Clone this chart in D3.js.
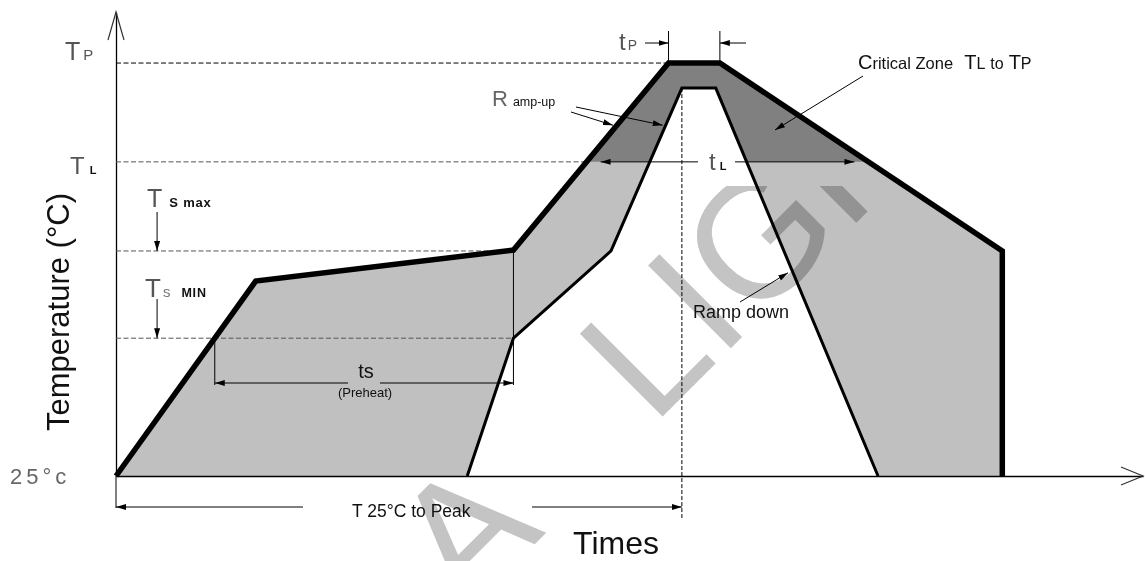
<!DOCTYPE html>
<html>
<head>
<meta charset="utf-8">
<script src="https://cdn.jsdelivr.net/npm/d3@7"></script>
<style>
  body { margin: 0; background: #fff; }
  svg { display: block; }
  text { font-family: "Liberation Sans", Arial, sans-serif; }
</style>
</head>
<body>
<svg></svg>
<script>
// reflow profile in relative units (0-100 on both axes)
const outerTime = [0, 13.6, 38.7, 53.8, 58.8, 86.3, 86.3];
const outerTemp = [0, 42.0, 48.7, 89.0, 89.0, 48.5, 0];
const innerTime = [34.2, 38.7, 48.2, 55.1, 58.4, 74.2];
const innerTemp = [0, 29.7, 48.5, 83.6, 83.6, 0];
const levelKeys = ["TP", "TL", "Tsmax", "Tsmin", "T25"];
const levelTemps = [89.0, 67.7, 48.5, 29.7, 0];
const peakTime = 55.1;
const rampUpTemp = 75.6;
const rampDownTemp = 43.8;

const width = 1145;
const height = 561;
const x = d3.scaleLinear().domain([0, 100]).range([116, 1143]);
const y = d3.scaleLinear().domain([0, 100]).range([476, 12]);
const level = k => levelTemps[levelKeys.indexOf(k)];

// time where a profile passes temperature t, searching from segment `from`
function crossAt(times, temps, t, from) {
  for (let i = from; i < times.length - 1; i++) {
    const a = temps[i], b = temps[i + 1];
    if (a !== b && (a - t) * (b - t) <= 0) {
      return times[i] + ((t - a) / (b - a)) * (times[i + 1] - times[i]);
    }
  }
}

const svg = d3.select("svg").attr("width", width).attr("height", height);
const defs = svg.append("defs");
defs
  .append("marker")
  .attr("id", "ah")
  .attr("viewBox", "0 0 10 6")
  .attr("refX", 10)
  .attr("refY", 3)
  .attr("markerWidth", 10)
  .attr("markerHeight", 6)
  .attr("markerUnits", "userSpaceOnUse")
  .attr("orient", "auto")
  .append("path")
  .attr("d", "M0,0L10,3L0,6Z")
  .attr("fill", "#000");
defs
  .append("clipPath")
  .attr("id", "above-tl")
  .append("rect")
  .attr("x", 0)
  .attr("y", 0)
  .attr("width", width)
  .attr("height", y(level("TL")));
defs
  .append("clipPath")
  .attr("id", "wm-clip")
  .append("rect")
  .attr("x", 0)
  .attr("y", 186)
  .attr("width", width)
  .attr("height", height - 186);

svg.append("rect").attr("width", width).attr("height", height).attr("fill", "#fff");

const outerPts = outerTime.map((t, i) => [t, outerTemp[i]]);
const innerPts = innerTime.map((t, i) => [t, innerTemp[i]]);
const line = d3.line().x(d => x(d[0])).y(d => y(d[1]));
const band = outerPts.concat(innerPts.slice().reverse());

// filled band between the two profiles
svg.append("path").attr("d", line(band) + "Z").attr("fill", "#c0c0c0");
svg
  .append("path")
  .attr("d", line(band) + "Z")
  .attr("fill", "#808080")
  .attr("clip-path", "url(#above-tl)");

// watermark
const wm = svg
  .append("g")
  .attr("clip-path", "url(#wm-clip)")
  .style("mix-blend-mode", "multiply");
const wmg = wm.append("g").attr("transform", "translate(662,417) rotate(-45)");
wmg
  .append("text")
  .attr("x", -13)
  .attr("font-size", 170)
  .attr("fill", "#c4c4c4")
  .text("LIGH");
wmg
  .append("text")
  .attr("x", -220)
  .attr("text-anchor", "middle")
  .attr("font-size", 170)
  .attr("fill", "#c4c4c4")
  .text("A");

// axes
const xAxis = svg
  .append("g")
  .attr("transform", `translate(0,${y(0)})`)
  .call(d3.axisBottom(x).tickValues([]).tickSizeOuter(0));
xAxis.select(".domain").attr("stroke", "#000").attr("stroke-width", 1.3);
const yAxis = svg
  .append("g")
  .attr("transform", `translate(${x(0)},0)`)
  .call(d3.axisLeft(y).tickValues([]).tickSizeOuter(0));
yAxis.select(".domain").attr("stroke", "#000").attr("stroke-width", 1.3);

svg
  .append("polyline")
  .attr("points", [[x(100) - 22, y(0) - 9], [x(100), y(0)], [x(100) - 22, y(0) + 9]].join(" "))
  .attr("fill", "none")
  .attr("stroke", "#333")
  .attr("stroke-width", 1.2);
svg
  .append("polyline")
  .attr("points", [[x(0) - 8, y(100) + 28], [x(0), y(100)], [x(0) + 8, y(100) + 28]].join(" "))
  .attr("fill", "none")
  .attr("stroke", "#333")
  .attr("stroke-width", 1.2);

const ann = svg.append("g").attr("stroke", "#000").attr("stroke-width", 1).attr("fill", "none");
function seg(x1, y1, x2, y2, head) {
  const l = ann
    .append("line")
    .attr("x1", x1)
    .attr("y1", y1)
    .attr("x2", x2)
    .attr("y2", y2);
  if (head) l.attr("marker-end", "url(#ah)");
  return l;
}

// dashed level lines
const tlLeft = crossAt(outerTime, outerTemp, level("TL"), 0);
const tlRight = crossAt(outerTime, outerTemp, level("TL"), 3);
const soakStart = crossAt(outerTime, outerTemp, level("Tsmin"), 0);
const soakEnd = outerTime[2];
seg(x(0), y(level("TP")), x(outerTime[3]), y(level("TP"))).attr("stroke-dasharray", "5,2.5");
seg(x(0), y(level("TL")), x(tlLeft), y(level("TL"))).attr("stroke-dasharray", "5,2.5").attr("stroke", "#555");
seg(x(0), y(level("Tsmax")), x(soakEnd), y(level("Tsmax"))).attr("stroke-dasharray", "5,2.5").attr("stroke", "#555");
seg(x(0), y(level("Tsmin")), x(soakEnd), y(level("Tsmin"))).attr("stroke-dasharray", "5,2.5").attr("stroke", "#555");
seg(x(peakTime), y(innerTemp[3]), x(peakTime), y(0) + 42).attr("stroke-dasharray", "4,2");

// profile lines
svg
  .append("path")
  .attr("d", line(innerPts))
  .attr("fill", "none")
  .attr("stroke", "#000")
  .attr("stroke-width", 3);
svg
  .append("path")
  .attr("d", line(outerPts))
  .attr("fill", "none")
  .attr("stroke", "#000")
  .attr("stroke-width", 5.5)
  .attr("stroke-linejoin", "miter");

// dimension marks
const dimY = y(0) + 31;
seg(x(0), y(0), x(0), dimY + 1);
seg(303, dimY, x(0), dimY, true);
seg(532, dimY, x(peakTime), dimY, true);

const tsY = 383;
seg(x(soakStart), y(level("Tsmin")), x(soakStart), tsY + 2);
seg(x(soakEnd), y(level("Tsmax")), x(soakEnd), tsY + 2);
seg(348, tsY, x(soakStart), tsY, true);
seg(380, tsY, x(soakEnd), tsY, true);

seg(698, y(level("TL")), x(tlLeft) + 14, y(level("TL")), true);
seg(735, y(level("TL")), x(tlRight) - 14, y(level("TL")), true);

seg(x(outerTime[3]), 31, x(outerTime[3]), y(level("TP")));
seg(x(outerTime[4]), 31, x(outerTime[4]), y(level("TP")));
seg(645, 43, x(outerTime[3]), 43, true);
seg(746, 43, x(outerTime[4]), 43, true);

seg(x(4), 212, x(4), y(level("Tsmax")), true);
seg(x(4), 299, x(4), y(level("Tsmin")), true);

seg(571, 112, x(crossAt(outerTime, outerTemp, rampUpTemp, 0)) - 4, y(rampUpTemp), true);
seg(576, 107, x(crossAt(innerTime, innerTemp, rampUpTemp, 0)) - 3, y(rampUpTemp), true);
seg(740, 302, x(crossAt(innerTime, innerTemp, rampDownTemp, 3)) - 5, y(rampDownTemp), true);
seg(863, 76, 775, 130, true);

// labels
function label(px, py, parts, anchor) {
  const t = svg
    .append("text")
    .attr("x", px)
    .attr("y", py)
    .attr("text-anchor", anchor || "start");
  parts.forEach(p => {
    const s = t
      .append("tspan")
      .attr("font-size", p.size)
      .attr("fill", p.fill || "#111")
      .text(p.text);
    if (p.bold) s.attr("font-weight", "bold");
    if (p.dx) s.attr("dx", p.dx);
    if (p.ls) s.attr("letter-spacing", p.ls);
  });
  return t;
}
const gray = "#555";

label(65, y(level("TP")) - 3, [
  { text: "T", size: 25, fill: gray },
  { text: "P", size: 15, fill: gray, dx: 3 }
]);
label(70, y(level("TL")) + 12, [
  { text: "T", size: 24, fill: gray },
  { text: "L", size: 11, bold: true, dx: 5 }
]);
label(147, y(level("Tsmax")) - 44, [
  { text: "T", size: 25, fill: gray },
  { text: "S max", size: 13, bold: true, dx: 7, ls: 0.8 }
]);
label(145, y(level("Tsmin")) - 41, [
  { text: "T", size: 26, fill: gray },
  { text: "s", size: 15, fill: "#777", dx: 2 },
  { text: "MIN", size: 12.5, bold: true, dx: 11, ls: 0.8 }
]);
label(10, y(0) + 8, [{ text: "25°c", size: 22, fill: "#666", ls: 4 }]);

svg
  .append("text")
  .attr("transform", `translate(69,${(y(0) + y(100)) / 2 + 68}) rotate(-90)`)
  .attr("text-anchor", "middle")
  .attr("font-size", 31)
  .attr("fill", "#111")
  .text("Temperature (°C)");
label(616, 554, [{ text: "Times", size: 32 }], "middle");
label(352, dimY + 10, [{ text: "T 25°C to Peak", size: 17.5 }]);
label(366, 378, [{ text: "ts", size: 20 }], "middle");
label(365, 397, [{ text: "(Preheat)", size: 13 }], "middle");
label(709, y(level("TL")) + 8, [
  { text: "t", size: 24, fill: gray },
  { text: "L", size: 11, bold: true, dx: 4 }
]);
label(619, 50, [
  { text: "t", size: 24, fill: gray },
  { text: "P", size: 14, fill: gray, dx: 2 }
]);
label(492, 106, [
  { text: "R", size: 22, fill: "#666" },
  { text: "amp-up", size: 12.5, dx: 5 }
]);
label(693, 318, [{ text: "Ramp down", size: 18 }]);
label(858, 69, [
  { text: "C", size: 20 },
  { text: "ritical Zone", size: 16.5 },
  { text: "T", size: 20, dx: 11 },
  { text: "L", size: 16 },
  { text: "to", size: 16, dx: 5 },
  { text: "T", size: 20, dx: 5 },
  { text: "P", size: 16 }
]);
</script>
</body>
</html>
